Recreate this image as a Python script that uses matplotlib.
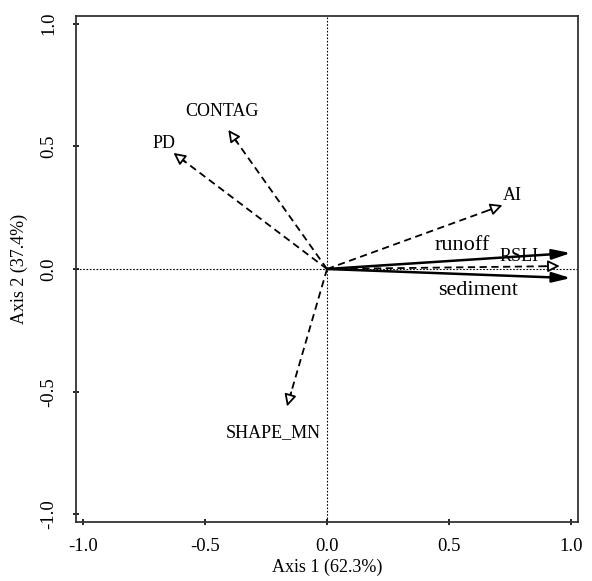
import numpy as np
import matplotlib
matplotlib.use("Agg")
import matplotlib.pyplot as plt

plt.rcParams['font.family'] = ['Liberation Serif', 'DejaVu Serif']

# arrow tips (explanatory = dashed, open heads; response = solid, filled heads)
env_names = ["PD", "CONTAG", "AI", "RSLI", "SHAPE_MN"]
env_x = [-0.63, -0.405, 0.72, 0.955, -0.164]
env_y = [0.473, 0.567, 0.26, 0.012, -0.56]
env_lab_x = [-0.67, -0.43, 0.76, 0.79, -0.22]
env_lab_y = [0.51, 0.64, 0.30, 0.05, -0.665]

resp_names = ["runoff", "sediment"]
resp_x = [1.0, 1.0]
resp_y = [0.065, -0.037]
resp_lab_x = [0.553, 0.62]
resp_lab_y = [0.094, -0.086]

ticks = [-1.0, -0.5, 0.0, 0.5, 1.0]
tick_labels = ["-1.0", "-0.5", "0.0", "0.5", "1.0"]

fig = plt.figure(figsize=(5.92, 5.81), dpi=100)
ax = fig.add_axes([0.1284, 0.102, 0.848, 0.870])

ax.axhline(0, color='black', lw=0.8, ls=(0, (1.5, 1.5)), zorder=1)
ax.axvline(0, color='black', lw=0.8, ls=(0, (1.5, 1.5)), zorder=1)

# dashed arrows, open triangle heads
for x, y in zip(env_x, env_y):
    L = np.hypot(x, y)
    ux, uy = x / L, y / L
    ax.plot([0, x - 0.03 * ux], [0, y - 0.03 * uy], color='black', lw=1.3,
            ls=(0, (4, 2.5)), zorder=2)
    ax.annotate('', xy=(x, y), xytext=(x - 0.06 * ux, y - 0.06 * uy),
                arrowprops=dict(arrowstyle='-|>,head_length=0.7,head_width=0.35',
                                fc='white', ec='black', lw=1.3,
                                shrinkA=0, shrinkB=0), zorder=3)

# solid arrows, filled heads
for x, y in zip(resp_x, resp_y):
    ax.annotate('', xy=(x, y), xytext=(0, 0),
                arrowprops=dict(arrowstyle='-|>,head_length=1.1,head_width=0.3',
                                fc='black', ec='black', lw=1.8,
                                shrinkA=0, shrinkB=0), zorder=4)

for n, lx, ly in zip(env_names, env_lab_x, env_lab_y):
    ax.text(lx, ly, n, ha='center', va='center', fontsize=13, zorder=5)
for n, lx, ly in zip(resp_names, resp_lab_x, resp_lab_y):
    ax.text(lx, ly, n, ha='center', va='center', fontsize=16, zorder=5)

ax.set_xlim(-1.03, 1.03)
ax.set_ylim(-1.03, 1.03)
ax.set_xticks(ticks)
ax.set_xticklabels(tick_labels)
ax.set_yticks(ticks)
ax.set_yticklabels(tick_labels, rotation=90, va='center')
ax.tick_params(direction='inout', length=5, width=1.2, labelsize=13.5)
ax.tick_params(axis='x', pad=9)
ax.tick_params(axis='y', pad=11)
for s in ax.spines.values():
    s.set_linewidth(1.3)
    s.set_color('#333333')

ax.set_xlabel("Axis 1 (62.3%)", fontsize=13, labelpad=3)
ax.set_ylabel("Axis 2 (37.4%)", fontsize=13, labelpad=9)

fig.savefig("out.png", dpi=100)
